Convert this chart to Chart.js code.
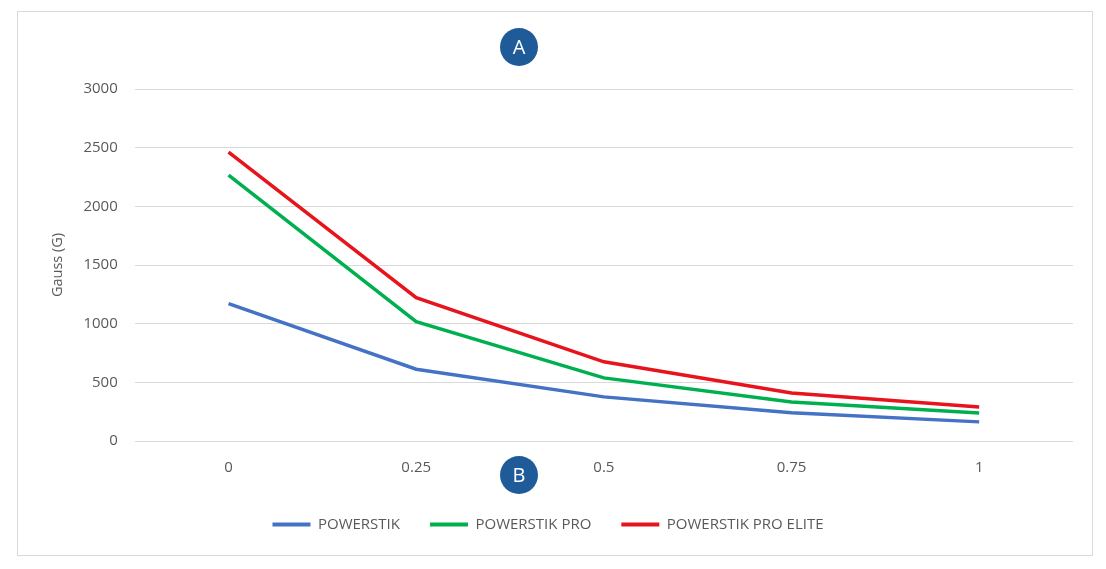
<!DOCTYPE html>
<html>
<head>
<meta charset="utf-8">
<script src="https://cdn.jsdelivr.net/npm/chart.js@4/dist/chart.umd.min.js"></script>
<style>
    body { margin: 0; background: #fff; }
    #box {
        position: absolute;
        left: 17px;
        top: 11px;
        width: 1074px;
        height: 543px;
        border: 1px solid #d9d9d9;
    }
</style>
</head>
<body>
<div id="box"><canvas id="myChart"></canvas></div>
<script>
// dane z wykresu
const distances = ['0', '0.25', '0.5', '0.75', '1'];
const powerstik = [1170, 612, 376, 240, 163];
const powerstikPro = [2265, 1018, 538, 333, 238];
const powerstikProElite = [2462, 1222, 675, 410, 290];
const yTicks = [0, 500, 1000, 1500, 2000, 2500, 3000];

// kolka z literami A i B
const badges = {
    id: 'badges',
    afterLayout(chart) {
        // legenda troche w lewo, jak w oryginale
        chart.legend.left -= 13;
        chart.legend.right -= 13;
    },
    afterDraw(chart) {
        const ctx = chart.ctx;
        const items = [['A', 35], ['B', 463]];
        items.forEach(([letter, y]) => {
            ctx.save();
            ctx.beginPath();
            ctx.arc(501, y, 19, 0, Math.PI * 2);
            ctx.fillStyle = '#1f5b99';
            ctx.fill();
            ctx.fillStyle = '#ffffff';
            ctx.font = '20px "Open Sans"';
            ctx.textAlign = 'center';
            ctx.textBaseline = 'middle';
            ctx.fillText(letter, 501, y + 1);
            ctx.restore();
        });
    }
};

const ctx = document.getElementById('myChart').getContext('2d');
const myChart = new Chart(ctx, {
    type: 'line',
    data: {
        labels: distances,
        datasets: [{
            label: 'POWERSTIK',
            data: powerstik,
            borderColor: '#4472c4',
            backgroundColor: '#4472c4'
        }, {
            label: 'POWERSTIK PRO',
            data: powerstikPro,
            borderColor: '#00b050',
            backgroundColor: '#00b050'
        }, {
            label: 'POWERSTIK PRO ELITE',
            data: powerstikProElite,
            borderColor: '#e8141c',
            backgroundColor: '#e8141c'
        }]
    },
    options: {
        responsive: true,
        maintainAspectRatio: false,
        animation: false,
        elements: {
            line: { borderWidth: 3.5, tension: 0 },
            point: { radius: 0 }
        },
        layout: {
            padding: { top: 77, left: 31, right: 19, bottom: 13 }
        },
        scales: {
            x: {
                offset: true,
                grid: { display: false },
                border: { display: false },
                ticks: {
                    color: '#595959',
                    font: { family: 'Open Sans', size: 15 },
                    padding: 10
                }
            },
            y: {
                min: 0,
                max: 3000,
                afterBuildTicks: axis => { axis.ticks = yTicks.map(v => ({ value: v })); },
                grid: { color: '#d9d9d9', drawTicks: false },
                border: { display: false },
                ticks: {
                    color: '#595959',
                    font: { family: 'Open Sans', size: 15 },
                    padding: 17,
                    callback: value => String(value)
                },
                title: {
                    display: true,
                    text: 'Gauss (G)',
                    color: '#595959',
                    font: { family: 'Open Sans', size: 14.5 },
                    padding: { top: 0, bottom: 0 }
                }
            }
        },
        plugins: {
            legend: {
                position: 'bottom',
                labels: {
                    color: '#595959',
                    font: { family: 'Open Sans', size: 15 },
                    boxWidth: 38,
                    boxHeight: 0,
                    padding: 30,
                    generateLabels: chart => chart.data.datasets.map((ds, i) => ({
                        text: ds.label,
                        fillStyle: ds.borderColor,
                        strokeStyle: ds.borderColor,
                        lineWidth: 4,
                        lineCap: 'round',
                        datasetIndex: i,
                        fontColor: '#595959'
                    }))
                }
            },
            tooltip: { enabled: false }
        }
    },
    plugins: [badges]
});
</script>
</body>
</html>
